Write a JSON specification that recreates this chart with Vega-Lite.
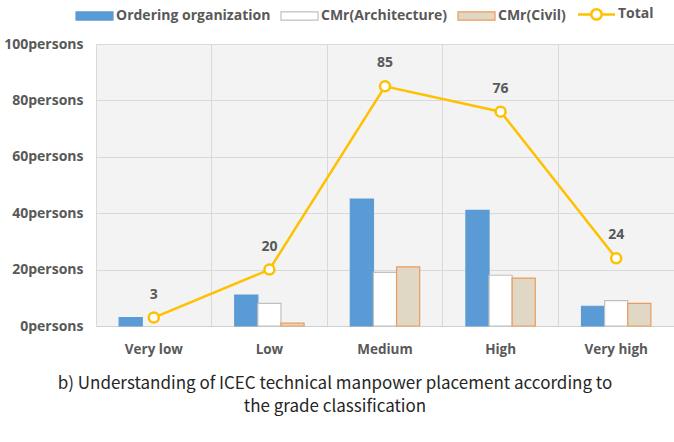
{
  "$schema": "https://vega.github.io/schema/vega-lite/v6.json",
  "width": 578,
  "height": 282,
  "autosize": {"type": "none"},
  "padding": {"left": 96, "top": 44, "right": 0, "bottom": 116},
  "background": "#ffffff",
  "title": {
    "text": ["b) Understanding of ICEC technical manpower placement according to", "the grade classification"],
    "orient": "bottom",
    "anchor": "middle",
    "frame": "group",
    "dx": -50,
    "offset": 20,
    "font": "Noto Sans CJK KR",
    "fontSize": 17,
    "fontWeight": "normal",
    "color": "#262626",
    "lineHeight": 23
  },
  "config": {
    "view": {"fill": "#f3f3f3", "stroke": null},
    "axis": {
      "labelFont": "Open Sans",
      "labelFontWeight": "bold",
      "labelColor": "#595959",
      "labelFontSize": 14,
      "ticks": false,
      "title": null
    },
    "legend": {
      "labelFont": "Open Sans",
      "labelFontWeight": "bold",
      "labelColor": "#595959",
      "labelFontSize": 14
    }
  },
  "data": {
    "values": [
      {"grade": "Very low", "series": "Ordering organization", "value": 3},
      {"grade": "Very low", "series": "CMr(Architecture)", "value": 0},
      {"grade": "Very low", "series": "CMr(Civil)", "value": 0},
      {"grade": "Low", "series": "Ordering organization", "value": 11},
      {"grade": "Low", "series": "CMr(Architecture)", "value": 8},
      {"grade": "Low", "series": "CMr(Civil)", "value": 1},
      {"grade": "Medium", "series": "Ordering organization", "value": 45},
      {"grade": "Medium", "series": "CMr(Architecture)", "value": 19},
      {"grade": "Medium", "series": "CMr(Civil)", "value": 21},
      {"grade": "High", "series": "Ordering organization", "value": 41},
      {"grade": "High", "series": "CMr(Architecture)", "value": 18},
      {"grade": "High", "series": "CMr(Civil)", "value": 17},
      {"grade": "Very high", "series": "Ordering organization", "value": 7},
      {"grade": "Very high", "series": "CMr(Architecture)", "value": 9},
      {"grade": "Very high", "series": "CMr(Civil)", "value": 8},
      {"grade": "Very low", "series": "Total", "value": 3},
      {"grade": "Low", "series": "Total", "value": 20},
      {"grade": "Medium", "series": "Total", "value": 85},
      {"grade": "High", "series": "Total", "value": 76},
      {"grade": "Very high", "series": "Total", "value": 24}
    ]
  },
  "encoding": {
    "x": {
      "field": "grade",
      "type": "nominal",
      "sort": ["Very low", "Low", "Medium", "High", "Very high"],
      "scale": {"paddingInner": 0, "paddingOuter": 0},
      "axis": {
        "labelAngle": 0,
        "labelPadding": 16,
        "labelFontSize": 13.5,
        "grid": true,
        "bandPosition": 0,
        "gridColor": "#d9d9d9",
        "gridWidth": 1,
        "domainColor": "#d0d0d0",
        "domainWidth": 1
      }
    },
    "y": {
      "field": "value",
      "type": "quantitative",
      "scale": {"domain": [0, 100], "nice": false},
      "axis": {
        "values": [0, 20, 40, 60, 80, 100],
        "labelExpr": "datum.value + 'persons'",
        "labelPadding": 13,
        "domain": false,
        "gridColor": "#d9d9d9",
        "gridWidth": 1
      }
    }
  },
  "layer": [
    {
      "transform": [{"filter": "datum.series !== 'Total' && datum.value > 0"}],
      "mark": {"type": "bar", "strokeWidth": 1.2},
      "encoding": {
        "xOffset": {
          "field": "series",
          "type": "nominal",
          "sort": ["Ordering organization", "CMr(Architecture)", "CMr(Civil)"],
          "scale": {
            "domain": ["Ordering organization", "CMr(Architecture)", "CMr(Civil)"],
            "paddingInner": 0,
            "paddingOuter": 1.35
          }
        },
        "fill": {
          "field": "series",
          "type": "nominal",
          "scale": {
            "domain": ["Ordering organization", "CMr(Architecture)", "CMr(Civil)", "Total"],
            "range": ["#5b9bd5", "#ffffff", "#e0d8c5", "#ffffff"]
          },
          "legend": {
            "title": null,
            "orient": "none",
            "direction": "horizontal",
            "legendX": -20,
            "legendY": -37,
            "padding": 0,
            "symbolSize": 1369,
            "labelOffset": 3,
            "columnPadding": 7,
            "labelLimit": 300,
            "encode": {
              "symbols": {
                "update": {
                  "x": {"value": 18.5},
                  "shape": {"signal": "datum.value === 'Total' ? 'M-1,0H-0.28M0.28,0H1M0.28,0A0.28,0.28,0,1,1,-0.28,0A0.28,0.28,0,1,1,0.28,0' : 'M-1,-0.22H1V0.22H-1Z'"},
                  "strokeWidth": {"signal": "datum.value === 'Total' ? 2.5 : 1.2"}
                }
              },
              "labels": {
                "update": {
                  "x": {"value": 40}
                }
              }
            }
          }
        },
        "stroke": {
          "field": "series",
          "type": "nominal",
          "scale": {
            "domain": ["Ordering organization", "CMr(Architecture)", "CMr(Civil)", "Total"],
            "range": ["#5b9bd5", "#bfbfbf", "#ed9b5a", "#ffc000"]
          },
          "legend": null
        }
      }
    },
    {
      "transform": [{"filter": "datum.series === 'Total'"}],
      "mark": {"type": "line", "strokeWidth": 2.5},
      "encoding": {
        "stroke": {"field": "series", "type": "nominal", "legend": null}
      }
    },
    {
      "transform": [{"filter": "datum.series === 'Total'"}],
      "mark": {"type": "point", "filled": true, "fill": "#ffffff", "size": 100, "strokeWidth": 2.5, "opacity": 1},
      "encoding": {
        "stroke": {"field": "series", "type": "nominal", "legend": null}
      }
    },
    {
      "transform": [{"filter": "datum.series === 'Total'"}],
      "mark": {
        "type": "text",
        "dy": -23,
        "font": "Open Sans",
        "fontWeight": "bold",
        "fontSize": 14,
        "color": "#595959"
      },
      "encoding": {
        "text": {"field": "value", "type": "quantitative"}
      }
    }
  ]
}
